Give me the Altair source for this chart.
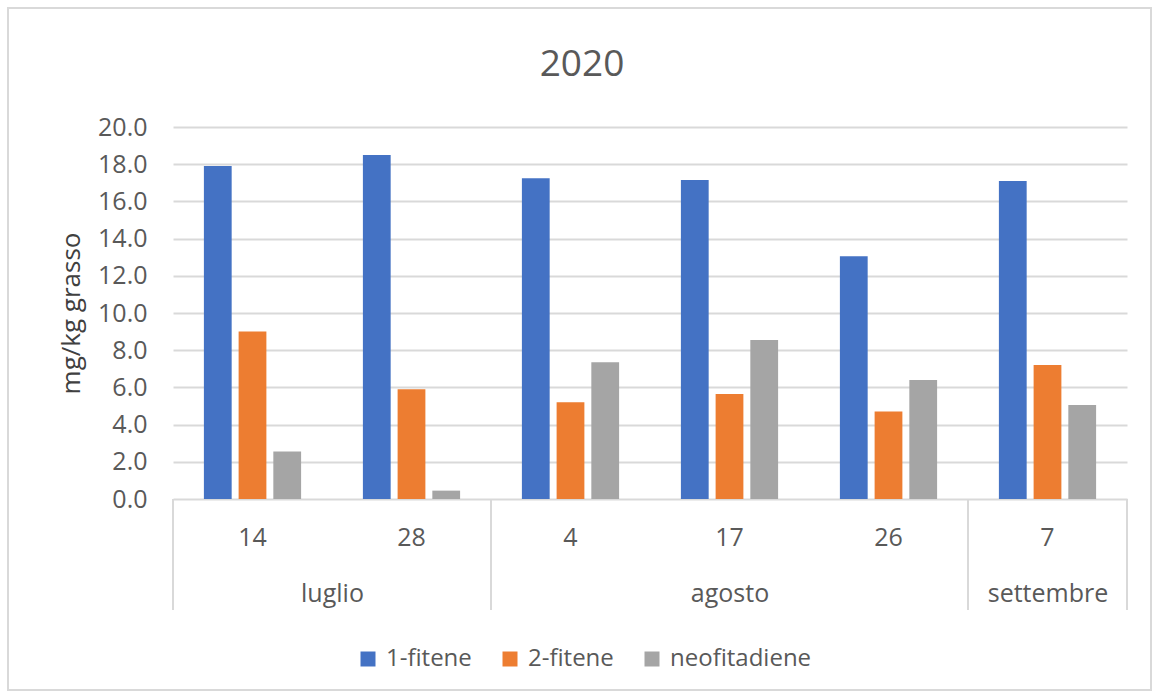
import altair as alt
import pandas as pd

# ---- data ----
title_text = "2020"
months = ["luglio", "luglio", "agosto", "agosto", "agosto", "settembre"]
days = ["14", "28", "4", "17", "26", "7"]
series = ["1-fitene", "2-fitene", "neofitadiene"]
fitene1 = [17.9, 18.5, 17.25, 17.15, 13.05, 17.1]
fitene2 = [9.0, 5.9, 5.2, 5.65, 4.7, 7.2]
neofitadiene = [2.55, 0.45, 7.35, 8.55, 6.4, 5.05]
colors = ["#4472C4", "#ED7D31", "#A5A5A5"]
y_ticks = [0, 2, 4, 6, 8, 10, 12, 14, 16, 18, 20]

rows = []
for vals, s in zip([fitene1, fitene2, neofitadiene], series):
    for d, m, v in zip(days, months, vals):
        rows.append({"day": d, "month": m, "series": s, "value": v})
df = pd.DataFrame(rows)

# month groups: boundaries and centers (in category-index units)
month_names = []
month_counts = []
for m in months:
    if month_names and month_names[-1] == m:
        month_counts[-1] += 1
    else:
        month_names.append(m)
        month_counts.append(1)
bounds = [0]
for c in month_counts:
    bounds.append(bounds[-1] + c)
centers = [(bounds[i] + bounds[i + 1]) / 2 for i in range(len(month_names))]
label_expr = " : ".join(
    f"datum.value == {c} ? '{n}'" for c, n in zip(centers[:-1], month_names[:-1])
) + f" : '{month_names[-1]}'"

W, H = 954, 372
GRAY = "#595959"
GRID = "#d9d9d9"

bars = alt.Chart(df).mark_bar().encode(
    x=alt.X(
        "day:N",
        sort=days,
        scale=alt.Scale(paddingInner=0, paddingOuter=0),
        axis=alt.Axis(
            title=None, labelAngle=0, domain=False, ticks=False, grid=False,
            labelFontSize=25, labelColor=GRAY, labelPadding=26, orient="bottom",
        ),
    ),
    xOffset=alt.XOffset(
        "series:N", sort=series,
        scale=alt.Scale(paddingInner=0.2, paddingOuter=0.89),
    ),
    y=alt.Y(
        "value:Q",
        scale=alt.Scale(domain=[0, 20], nice=False),
        axis=alt.Axis(
            title="mg/kg grasso", values=y_ticks, format=".1f",
            domain=False, ticks=False, labelFontSize=25, labelColor=GRAY,
            labelPadding=26, gridColor=GRID, gridWidth=2,
            titleFontSize=26, titleFontWeight="normal", titleColor="#404040",
            titlePadding=13,
        ),
    ),
    color=alt.Color(
        "series:N", sort=series,
        scale=alt.Scale(domain=series, range=colors),
        legend=alt.Legend(
            title=None, orient="none", legendX=183, legendY=520,
            direction="horizontal", symbolType="square", symbolSize=225,
            symbolStrokeWidth=0, labelFontSize=24, labelColor=GRAY,
            labelOffset=6, columnPadding=26,
        ),
    ),
)

sep_df = pd.DataFrame({"pos": bounds})
seps = alt.Chart(sep_df).mark_rule(color=GRID, strokeWidth=2).encode(
    x=alt.X(
        "pos:Q",
        scale=alt.Scale(domain=[0, len(days)], nice=False, zero=True),
        axis=alt.Axis(
            title=None, values=centers, labelExpr=label_expr, orient="bottom",
            domain=False, ticks=False, grid=False, labelFontSize=25,
            labelColor=GRAY, labelPadding=82,
        ),
    ),
    y=alt.value(H),
    y2=alt.value(H + 111),
)

frame = alt.Chart(alt.Data(values=[{}])).mark_rect(
    fill=None, stroke=GRID, strokeWidth=2
).encode(
    x=alt.value(8 - 173), x2=alt.value(1151 - 173),
    y=alt.value(8 - 127), y2=alt.value(690 - 127),
)

title = alt.Chart(alt.Data(values=[{"t": title_text}])).mark_text(
    fontSize=37, color=GRAY, baseline="alphabetic", align="center"
).encode(
    text="t:N",
    x=alt.value(582 - 173),
    y=alt.value(76 - 127),
)

chart = alt.layer(frame, bars, seps, title).resolve_scale(x="independent").properties(
    width=W, height=H,
    autosize=alt.AutoSizeParams(type="none"),
    padding={"left": 173, "top": 127, "right": 33, "bottom": 199},
).configure(font="Open Sans", background="white").configure_view(stroke=None)

chart.save("out.html", embed_options={"renderer": "svg", "actions": False})
